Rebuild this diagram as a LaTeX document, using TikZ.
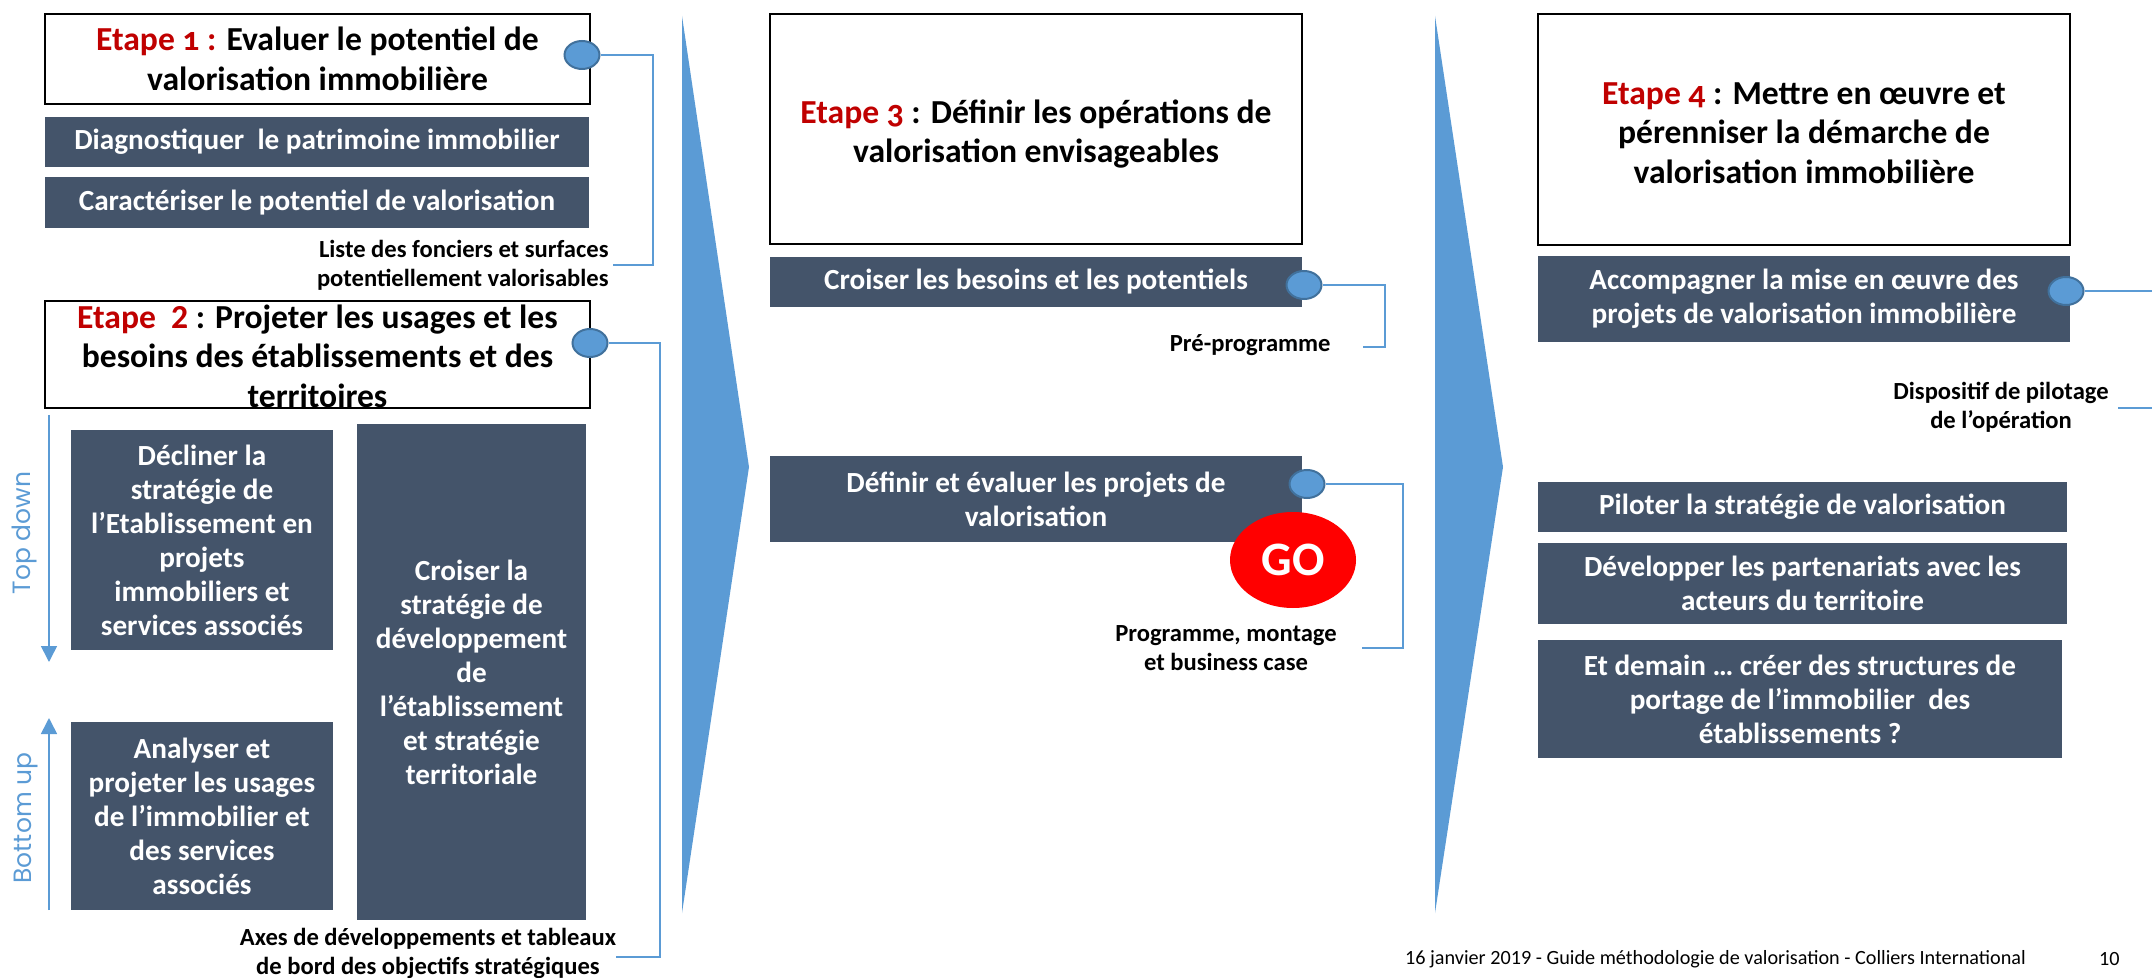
\documentclass[tikz,border=0pt]{standalone}
\usepackage{fontspec}
\setmainfont{Carlito}
\newfontfamily\gothic{Poppins}
\usetikzlibrary{arrows.meta,shapes.geometric}
\definecolor{BoxClr}{HTML}{44546A}
\definecolor{FlowClr}{HTML}{5B9BD5}
\definecolor{KnobEdge}{HTML}{41719C}
\definecolor{StepRed}{HTML}{C00000}
\definecolor{GoRed}{HTML}{FF0000}
\newcommand{\etape}[1]{\textcolor{StepRed}{Etape {\addfontfeature{Numbers=OldStyle}#1}}}
\tikzset{
  titlebox/.style={draw=black,line width=1.2pt,fill=white,inner sep=0pt},
  titletxt/.style={font=\bfseries\fontsize{16.8}{19.8}\selectfont,align=center},
  task/.style={fill=BoxClr,text=white,font=\bfseries\fontsize{14.6}{17}\selectfont,align=center,inner sep=0pt},
  knob/.style={ellipse,fill=FlowClr,draw=KnobEdge,line width=1pt,minimum width=17.5pt,minimum height=14pt,inner sep=0pt},
  link/.style={draw=FlowClr,line width=0.7pt},
  outcome/.style={font=\bfseries\fontsize{12.3}{14.5}\selectfont,align=center,inner sep=0pt},
  sense/.style={text=FlowClr,font=\gothic\fontsize{12.5}{14}\selectfont,rotate=90},
}
\begin{document}
\begin{tikzpicture}[x=0.5pt,y=-0.5pt]
\useasboundingbox (0,0) rectangle (2152,978);

% colonnes
\fill[FlowClr] (682,16) -- (749,467) -- (682,913) -- cycle;
\fill[FlowClr] (1435,16) -- (1503,467) -- (1435,913) -- cycle;

% etape 1
\node[titlebox,minimum width=272.5pt,minimum height=45pt] (e1) at (317.5,59) {};
\node[titletxt] (e1t) at (e1.center) {\etape{1 :} Evaluer le potentiel de\\valorisation immobilière};
\node[task,minimum width=272pt,minimum height=25pt] (diag) at (317,142) {Diagnostiquer\ \ le patrimoine immobilier};
\node[task,minimum width=272pt,minimum height=25.5pt] (carac) at (317,202.5) {Caractériser le potentiel de valorisation};

% etape 2
\node[titlebox,minimum width=272.5pt,minimum height=53.5pt] (e2) at (317.5,354.5) {};
\node[titletxt] (e2t) at (317.5,356) {\textcolor{StepRed}{Etape\ \ 2} : Projeter les usages et les\\besoins des établissements et des\\territoires};
\node[task,minimum width=131pt,minimum height=110pt] (decl) at (202,540) {Décliner la\\stratégie de\\l’Etablissement en\\projets\\immobiliers et\\services associés};
\node[task,minimum width=131pt,minimum height=94pt] (anal) at (202,816) {Analyser et\\projeter les usages\\de l’immobilier et\\des services\\associés};
\node[task,minimum width=114.5pt,minimum height=248pt] (crois) at (471.5,672) {Croiser la\\stratégie de\\développement\\de\\l’établissement\\et stratégie\\territoriale};
\coordinate (td1) at (49,415);
\coordinate (td2) at (49,662);
\coordinate (bu1) at (49,910);
\coordinate (bu2) at (49,718);
\draw[FlowClr,line width=0.8pt,-{Triangle[length=8pt,width=8pt]}] (td1) -- (td2);
\draw[FlowClr,line width=0.8pt,-{Triangle[length=8pt,width=8pt]}] (bu1) -- (bu2);
\node[sense] (topdown) at (24,533) {Top down};
\node[sense] (bottomup) at (26,818) {Bottom up};

% etape 3
\node[titlebox,minimum width=266pt,minimum height=115pt] (e3) at (1036,129) {};
\node[titletxt] (e3t) at (1036,134) {\etape{3} : Définir les opérations de\\valorisation envisageables};
\node[task,minimum width=266pt,minimum height=25pt] (besoins) at (1036,282) {Croiser les besoins et les potentiels};
\node[task,minimum width=266pt,minimum height=43pt] (projets) at (1036,499) {Définir et évaluer les projets de\\valorisation};
\node[ellipse,fill=GoRed,text=white,minimum width=63pt,minimum height=48pt,font=\bfseries\fontsize{24}{26}\selectfont] (go) at (1293,560) {GO};

% etape 4
\node[titlebox,minimum width=266pt,minimum height=115.5pt] (e4) at (1804,129.5) {};
\node[titletxt] (e4t) at (1804,133) {\etape{4} : Mettre en œuvre et\\pérenniser la démarche de\\valorisation immobilière};
\node[task,minimum width=266pt,minimum height=43pt] (accomp) at (1804,299) {Accompagner la mise en œuvre des\\projets de valorisation immobilière};
\node[task,minimum width=264.5pt,minimum height=25pt] (pilot) at (1802.5,507) {Piloter la stratégie de valorisation};
\node[task,minimum width=264.5pt,minimum height=40.5pt] (parten) at (1802.5,583.5) {Développer les partenariats avec les\\acteurs du territoire};
\node[task,minimum width=262pt,minimum height=59pt] (demain) at (1800,699) {Et demain … créer des structures de\\portage de l’immobilier\ \ des\\établissements ?};

% livrables
\node[knob] (k1) at (582,55) {};
\node[knob] (k2) at (590,343) {};
\node[knob] (k3) at (1304,285) {};
\node[knob] (k4) at (1307,484) {};
\node[knob] (k5) at (2066,291) {};
\coordinate (c1) at (653,265);
\coordinate (c1e) at (613,265);
\coordinate (c2) at (660,957);
\coordinate (c2e) at (616,957);
\coordinate (c3) at (1385,347);
\coordinate (c3e) at (1363,347);
\coordinate (c4) at (1403,648);
\coordinate (c4e) at (1362,648);
\coordinate (c5) at (2152,291);
\coordinate (c6) at (2118,408);
\coordinate (c6e) at (2152,408);
\draw[link] (k1.east) -| (c1) -- (c1e);
\draw[link] (k2.east) -| (c2) -- (c2e);
\draw[link] (k3.east) -| (c3) -- (c3e);
\draw[link] (k4.east) -| (c4) -- (c4e);
\draw[link] (k5.east) -- (c5);
\draw[link] (c6) -- (c6e);
\node[outcome,anchor=east,align=right] (liste) at (609,265) {Liste des fonciers et surfaces\\potentiellement valorisables};
\node[outcome] (axes) at (428,953) {Axes de développements et tableaux\\de bord des objectifs stratégiques};
\node[outcome,anchor=east] (prepro) at (1331,345) {Pré-programme};
\node[outcome] (progr) at (1226,648) {Programme, montage\\et business case};
\node[outcome] (dispo) at (2001,407) {Dispositif de pilotage\\de l’opération};

% pied de page
\node[anchor=west,font=\fontsize{10.1}{12}\selectfont] (foot) at (1398,959) {16 janvier 2019 - Guide méthodologie de valorisation - Colliers International};
\node[anchor=west,font=\fontsize{10.1}{12}\selectfont] (page) at (2092,959) {10};
\end{tikzpicture}
\end{document}
